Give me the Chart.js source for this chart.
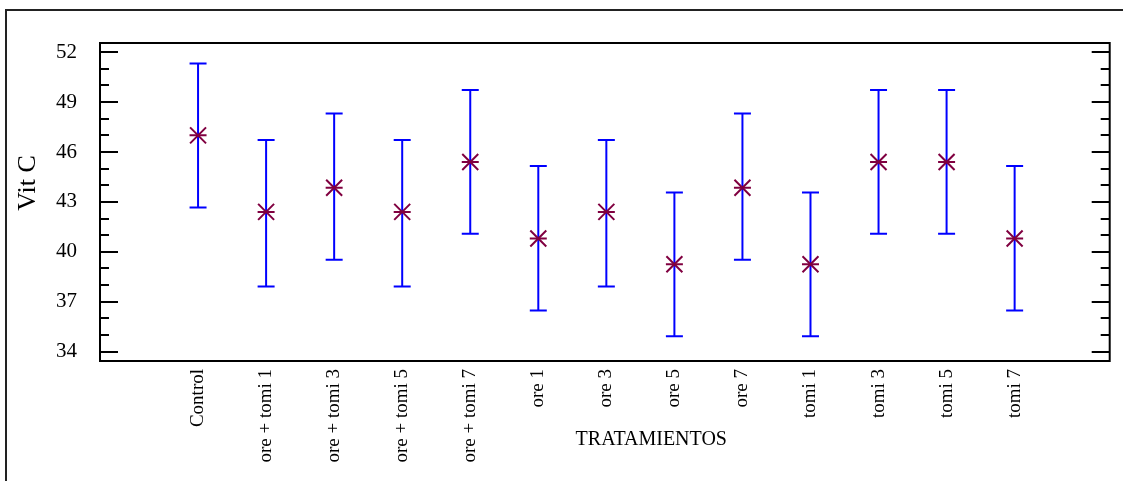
<!DOCTYPE html>
<html>
<head>
<meta charset="utf-8">
<script src="https://cdn.jsdelivr.net/npm/chart.js@4.4.1/dist/chart.umd.min.js"></script>
<style>
  html, body { margin: 0; padding: 0; background: #ffffff; }
  #wrap { width: 1123px; height: 481px; position: relative; }
</style>
</head>
<body>
<div id="wrap"><canvas id="c" width="1123" height="481"></canvas></div>
<script>
// ---- data ----
const categories = ['Control', 'ore + tomi 1', 'ore + tomi 3', 'ore + tomi 5', 'ore + tomi 7',
  'ore 1', 'ore 3', 'ore 5', 'ore 7', 'tomi 1', 'tomi 3', 'tomi 5', 'tomi 7'];
const means = [47.0, 42.4, 43.85, 42.4, 45.4, 40.8, 42.4, 39.25, 43.85, 39.25, 45.4, 45.4, 40.8];
const lowerLimits = [42.66, 37.92, 39.52, 37.92, 41.08, 36.48, 37.92, 34.92, 39.52, 34.92, 41.08, 41.08, 36.48];
const upperLimits = [51.32, 46.72, 48.32, 46.72, 49.72, 45.16, 46.72, 43.56, 48.32, 43.56, 49.72, 49.72, 45.16];
const yTickValues = [34, 37, 40, 43, 46, 49, 52];
const yAxisTitle = 'Vit C';
const xAxisTitle = 'TRATAMIENTOS';

// ---- derived datasets ----
const errorBarPoints = [];
categories.forEach((c, i) => {
  errorBarPoints.push({ x: i, y: lowerLimits[i] });
  errorBarPoints.push({ x: i, y: upperLimits[i] });
  errorBarPoints.push({ x: i, y: null });
});
const meanPoints = means.map((m, i) => ({ x: i, y: m }));

const FONT = "'Liberation Serif', 'Times New Roman', serif";
const BLUE = '#0000ff';
const MAROON = '#800040';

const framePlugin = {
  id: 'frame',
  afterDraw(chart) {
    const { ctx, chartArea: a, scales } = chart;
    const y = scales.y;
    ctx.save();
    // outer frame
    ctx.strokeStyle = '#222222';
    ctx.lineWidth = 2;
    ctx.beginPath();
    ctx.moveTo(6, chart.height);
    ctx.lineTo(6, 10);
    ctx.lineTo(chart.width, 10);
    ctx.stroke();
    // plot frame
    ctx.strokeStyle = '#000000';
    ctx.lineWidth = 2;
    ctx.strokeRect(a.left, a.top, a.width, a.height);
    // inward ticks left and right
    ctx.lineWidth = 2;
    for (let v = Math.ceil(y.min); v <= y.max; v++) {
      const py = Math.round(y.getPixelForValue(v));
      const major = yTickValues.includes(v);
      const len = major ? 18 : 9;
      ctx.beginPath();
      ctx.moveTo(a.left, py); ctx.lineTo(a.left + len, py);
      ctx.moveTo(a.right, py); ctx.lineTo(a.right - len, py);
      ctx.stroke();
    }
    // axis titles
    ctx.fillStyle = '#000000';
    ctx.textAlign = 'center';
    ctx.textBaseline = 'middle';
    ctx.font = "20px " + FONT;
    ctx.fillText(xAxisTitle, a.left + (a.width) * 0.546, 440);
    ctx.translate(28, 183);
    ctx.rotate(-Math.PI / 2);
    ctx.font = "26px " + FONT;
    ctx.fillText(yAxisTitle, 0, 0);
    ctx.restore();
  }
};

new Chart(document.getElementById('c'), {
  type: 'scatter',
  data: {
    datasets: [
      {
        type: 'line',
        label: 'interval',
        data: errorBarPoints,
        borderColor: BLUE,
        borderWidth: 2,
        spanGaps: false,
        pointStyle: 'line',
        pointRadius: 8.5,
        pointHoverRadius: 8.5,
        pointBorderColor: BLUE,
        pointBorderWidth: 2,
        fill: false,
        order: 3
      },
      {
        label: 'mean-diag',
        data: meanPoints,
        pointStyle: 'crossRot',
        pointRadius: 11.3,
        pointHoverRadius: 11.3,
        borderColor: MAROON,
        pointBorderColor: MAROON,
        pointBorderWidth: 2,
        order: 1
      },
      {
        label: 'mean-horiz',
        data: meanPoints,
        pointStyle: 'line',
        pointRadius: 8.5,
        pointHoverRadius: 8.5,
        borderColor: MAROON,
        pointBorderColor: MAROON,
        pointBorderWidth: 2,
        order: 2
      }
    ]
  },
  plugins: [framePlugin],
  options: {
    responsive: false,
    animation: false,
    events: [],
    layout: { padding: { left: 0, top: 43, right: 11, bottom: 0 } },
    plugins: { legend: { display: false }, tooltip: { enabled: false } },
    scales: {
      x: {
        type: 'linear',
        min: -1.441,
        max: 13.397,
        grid: { display: false, drawTicks: false },
        border: { display: false },
        afterBuildTicks: (s) => { s.ticks = categories.map((c, i) => ({ value: i })); },
        afterFit: (s) => { s.height = 120; },
        ticks: {
          autoSkip: false,
          minRotation: 90,
          maxRotation: 90,
          padding: 8,
          color: '#000000',
          font: { family: FONT, size: 19 },
          callback: (v) => categories[v] !== undefined ? categories[v] : ''
        }
      },
      y: {
        type: 'linear',
        min: 33.44,
        max: 52.55,
        grid: { display: false, drawTicks: false },
        border: { display: false },
        afterBuildTicks: (s) => { s.ticks = yTickValues.map(v => ({ value: v })); },
        afterFit: (s) => { s.width = 100; },
        ticks: {
          padding: 23,
          color: '#000000',
          font: { family: FONT, size: 21 },
          callback: (v) => String(v)
        }
      }
    }
  }
});
</script>
</body>
</html>
